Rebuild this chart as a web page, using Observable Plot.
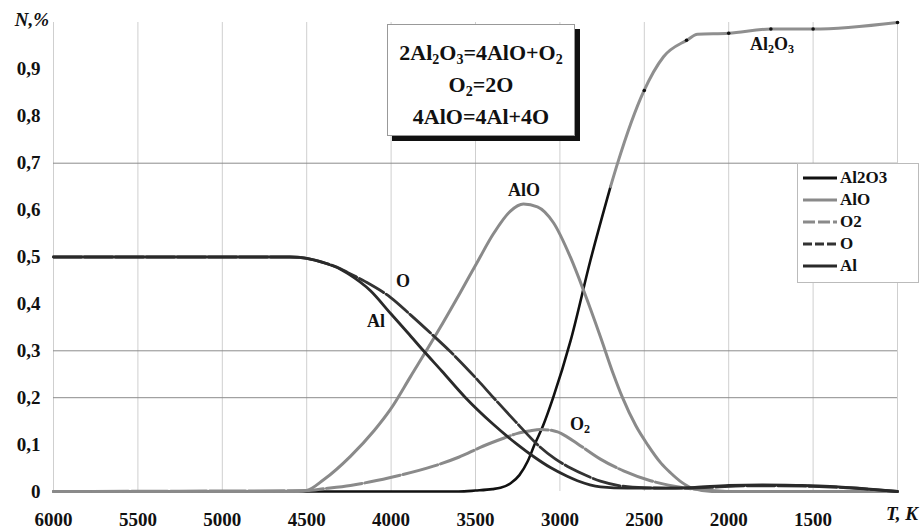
<!DOCTYPE html>
<html><head><meta charset="utf-8">
<script src="https://cdn.jsdelivr.net/npm/d3@7"></script>
<script src="https://cdn.jsdelivr.net/npm/@observablehq/plot@0.6"></script>
<style>
body{margin:0;background:#fff;}
#wrap{position:relative;width:920px;height:530px;font-family:"Liberation Serif","DejaVu Serif","Noto Serif",serif;font-weight:bold;color:#111;}
#eq{position:absolute;left:387px;top:24px;width:188px;height:112px;box-sizing:border-box;border:1px solid #999;background:#fff;box-shadow:5px 5px 0 #111;text-align:center;font-size:22px;line-height:32px;padding-top:12px;}
#eq sub{font-size:14px;line-height:0;vertical-align:-4px;}
#legend{position:absolute;left:797px;top:163px;width:122px;height:120px;box-sizing:border-box;border:1px solid #bbb;background:#fff;padding-top:3px;font-size:17px;}
#legend .row{height:22px;display:flex;align-items:center;}
#legend svg{margin-left:5px;margin-right:3px;}
</style></head><body><div id="wrap"></div>
<script>
// ---- data ----
const al2o3T = [6000, 3600, 3500, 3400, 3352, 3290, 3240, 3190, 3150, 3100, 3040, 2937, 2819, 2700, 2659, 2505, 2386, 2244, 2185, 2000, 1750, 1500, 1000];
const al2o3N = [0, 0, 0.002, 0.005, 0.008, 0.018, 0.035, 0.065, 0.1, 0.14, 0.2, 0.321, 0.493, 0.65, 0.699, 0.852, 0.927, 0.963, 0.975, 0.977, 0.986, 0.986, 1.0];
const markT = [2500, 2250, 2000, 1750, 1500, 1000];
const markN = [0.855, 0.962, 0.977, 0.986, 0.986, 1.0];

const aloT = [6000, 4550, 4500, 4400, 4241, 4100, 4004, 3885, 3725, 3589, 3488, 3393, 3293, 3216, 3133, 3038, 2937, 2860, 2760, 2683, 2629, 2550, 2481, 2400, 2345, 2280, 2209, 2100, 1000];
const aloN = [0, 0, 0.002, 0.025, 0.075, 0.13, 0.175, 0.245, 0.34, 0.425, 0.49, 0.55, 0.598, 0.613, 0.607, 0.573, 0.499, 0.429, 0.33, 0.25, 0.2, 0.14, 0.1, 0.06, 0.04, 0.02, 0.006, 0, 0];

const o2T = [6000, 4500, 4400, 4241, 4004, 3749, 3600, 3453, 3330, 3251, 3180, 3115, 3060, 3014, 2960, 2896, 2760, 2623, 2463, 2268, 2100, 2000, 1000];
const o2N = [0, 0.002, 0.006, 0.013, 0.03, 0.054, 0.073, 0.097, 0.114, 0.124, 0.129, 0.132, 0.131, 0.127, 0.117, 0.102, 0.069, 0.044, 0.023, 0.008, 0.002, 0, 0];

const oT = [6000, 4600, 4500, 4400, 4300, 4258, 4150, 4004, 3880, 3749, 3654, 3488, 3393, 3260, 3133, 3030, 2937, 2850, 2760, 2641, 2500, 2300, 2100, 1900, 1700, 1500, 1300, 1100, 1000];
const oN = [0.5, 0.5, 0.497, 0.488, 0.475, 0.467, 0.447, 0.414, 0.375, 0.332, 0.3, 0.238, 0.2, 0.148, 0.1, 0.07, 0.05, 0.035, 0.022, 0.012, 0.008, 0.007, 0.009, 0.012, 0.012, 0.011, 0.008, 0.003, 0];

const alT = [6000, 4600, 4500, 4400, 4300, 4258, 4122, 4004, 3900, 3808, 3700, 3559, 3400, 3251, 3150, 3056, 2960, 2896, 2760, 2600, 2400, 2200, 2000, 1800, 1600, 1400, 1200, 1000];
const alN = [0.5, 0.5, 0.497, 0.488, 0.474, 0.465, 0.428, 0.38, 0.338, 0.3, 0.257, 0.2, 0.145, 0.1, 0.073, 0.051, 0.033, 0.023, 0.01, 0.007, 0.007, 0.009, 0.013, 0.014, 0.013, 0.011, 0.006, 0];

const xTicks = [6000, 5500, 5000, 4500, 4000, 3500, 3000, 2500, 2000, 1500];
const xGrid = [6000, 5500, 5000, 4500, 4000, 3500, 3000, 2500, 2000, 1500, 1000];
const yTicks = [0, 0.1, 0.2, 0.3, 0.4, 0.5, 0.6, 0.7, 0.8, 0.9];
const yGrid = [0.2, 0.3, 0.7];

// curve labels (parts: [text, isSubscript])
const curveLabels = [
  {parts: [["O", false]], T: 3927, N: 0.444},
  {parts: [["Al", false]], T: 4087, N: 0.359},
  {parts: [["AlO", false]], T: 3210, N: 0.638},
  {parts: [["O", false], ["2", true]], T: 2878, N: 0.138},
  {parts: [["Al", false], ["2", true], ["O", false], ["3", true]], T: 1740, N: 0.948}
];

const legendNames = ["Al2O3", "AlO", "O2", "O", "Al"];
const legendStroke = ["#111", "#8a8a8a", "#8a8a8a", "#333", "#2a2a2a"];
const legendDash = ["", "", "12,3", "9,3", ""];

const FONT = "'Liberation Serif','DejaVu Serif','Noto Serif',serif";
const rows = (T, N) => T.map((t, i) => ({T: t, N: N[i]}));
const al2o3 = rows(al2o3T, al2o3N);
const curve = "monotone-x";

const chart = Plot.plot({
  width: 920, height: 530,
  marginLeft: 53, marginRight: 23, marginTop: 22, marginBottom: 39,
  style: {fontFamily: FONT, background: "transparent", color: "#111"},
  x: {domain: [6000, 1000]},
  y: {domain: [0, 1]},
  marks: [
    Plot.ruleX(xGrid, {stroke: "#cfcfcf", strokeWidth: 1}),
    Plot.ruleY(yGrid, {stroke: "#8c8c8c", strokeWidth: 1}),
    Plot.axisX({ticks: xTicks, tickSize: 0, tickPadding: 21, tickFormat: d => String(d), fontSize: 19, fontWeight: "bold", fontFamily: FONT, label: null}),
    Plot.axisY({ticks: yTicks, tickSize: 0, tickPadding: 13, tickFormat: d => d === 0 ? "0" : d.toFixed(1).replace(".", ","), fontSize: 19, fontWeight: "bold", fontFamily: FONT, label: null}),
    Plot.line(al2o3.filter(d => d.T >= 2700), {x: "T", y: "N", stroke: "#111", strokeWidth: 2.6, curve}),
    Plot.line(al2o3.filter(d => d.T <= 2700), {x: "T", y: "N", stroke: "#8f8f8f", strokeWidth: 3, curve}),
    Plot.dot(rows(markT, markN), {x: "T", y: "N", r: 1.8, fill: "#111", stroke: "none"}),
    Plot.line(rows(aloT, aloN), {x: "T", y: "N", stroke: "#8a8a8a", strokeWidth: 3, curve}),
    Plot.line(rows(o2T, o2N), {x: "T", y: "N", stroke: "#8a8a8a", strokeWidth: 3, strokeDasharray: "36,3", curve}),
    Plot.line(rows(oT, oN), {x: "T", y: "N", stroke: "#333", strokeWidth: 2.8, strokeDasharray: "28,3", curve}),
    Plot.line(rows(alT, alN), {x: "T", y: "N", stroke: "#2a2a2a", strokeWidth: 2.8, curve})
  ]
});

const wrap = document.getElementById("wrap");
wrap.appendChild(chart);

const xs = chart.scale("x"), ys = chart.scale("y");
const svg = d3.select(chart);
const g = svg.append("g").attr("font-family", FONT).attr("font-weight", "bold").attr("fill", "#111");
for (const lab of curveLabels) {
  const t = g.append("text").attr("x", xs.apply(lab.T)).attr("y", ys.apply(lab.N))
    .attr("text-anchor", "middle").attr("dominant-baseline", "middle").attr("font-size", 18);
  lab.parts.forEach(([s, sub], k) => {
    const sp = t.append("tspan").text(s);
    if (sub) sp.attr("font-size", 12).attr("dy", 4);
    else if (k > 0) sp.attr("dy", -4);
  });
}
// axis titles
g.append("text").attr("x", 49).attr("y", ys.apply(1)).attr("text-anchor", "end")
  .attr("dominant-baseline", "middle").attr("font-size", 19).attr("font-style", "italic").text("N,%");
g.append("text").attr("x", 918).attr("y", ys.apply(0) + 25).attr("text-anchor", "end")
  .attr("dominant-baseline", "middle").attr("font-size", 19).attr("font-style", "italic").text("T, K");

// equation box
const eq = document.createElement("div");
eq.id = "eq";
eq.innerHTML = "2Al<sub>2</sub>O<sub>3</sub>=4AlO+O<sub>2</sub><br>O<sub>2</sub>=2O<br>4AlO=4Al+4O";
wrap.appendChild(eq);

// legend
const leg = document.createElement("div");
leg.id = "legend";
legendNames.forEach((name, i) => {
  const row = document.createElement("div");
  row.className = "row";
  row.innerHTML = `<svg width="34" height="8"><line x1="0" y1="4" x2="34" y2="4" stroke="${legendStroke[i]}" stroke-width="3" ${legendDash[i] ? `stroke-dasharray="${legendDash[i]}"` : ""}/></svg><span>${name}</span>`;
  leg.appendChild(row);
});
wrap.appendChild(leg);
</script>
</body></html>
